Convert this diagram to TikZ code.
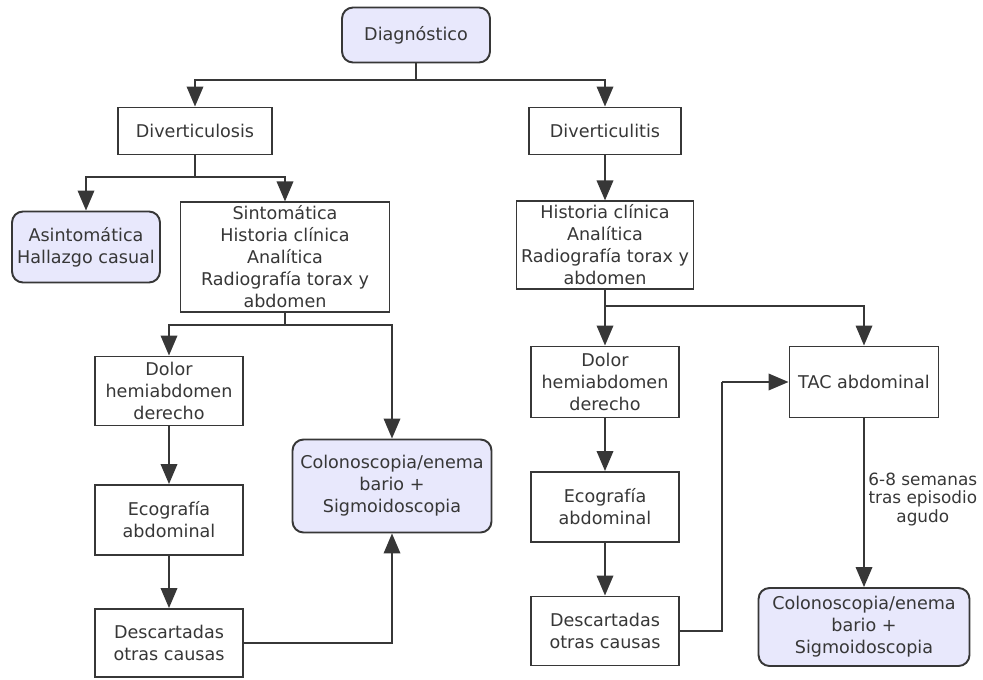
\documentclass[tikz,border=0pt]{standalone}
\usepackage{fontspec}
\setmainfont{DejaVu Sans}
\usetikzlibrary{arrows.meta}
\definecolor{lav}{RGB}{232,232,252}
\definecolor{ink}{RGB}{55,55,55}

\begin{document}
\begin{tikzpicture}[x=0.02cm,y=-0.02cm,
    font=\fontsize{10}{12.5}\selectfont, text=ink,
    box/.style={draw=ink, line width=1.1pt, fill=white, align=center, inner sep=2pt},
    rbox/.style={box, fill=lav, rounded corners=0.22cm},
    ->/.style={draw=ink, line width=1.1pt, -{Triangle[length=4mm,width=3.3mm]}},
    wire/.style={draw=ink, line width=1.1pt}]
\useasboundingbox (0,0) rectangle (983,679);
\node[rbox, minimum width=2.96cm, minimum height=1.1cm](d0) at (416,35){Diagnóstico};
\node[box, minimum width=3.08cm, minimum height=0.94cm](d1) at (195,131){Diverticulosis};
\node[box, minimum width=3.04cm, minimum height=0.94cm](d2) at (605,131){Diverticulitis};
\node[rbox, minimum width=2.96cm, minimum height=1.42cm](a1) at (86,247){Asintomática\\Hallazgo casual};
\node[box, minimum width=4.18cm, minimum height=2cm](a2) at (285,257){Sintomática\\Historia clínica\\Analítica\\Radiografía torax y\\abdomen};
\node[box, minimum width=2.96cm, minimum height=1.38cm](b1) at (169,391){Dolor\\hemiabdomen\\derecho};
\node[rbox, minimum width=3.98cm, minimum height=1.86cm](b2) at (392,486){Colonoscopia/enema\\bario +\\Sigmoidoscopia};
\node[box, minimum width=2.96cm, minimum height=1.4cm](b3) at (169,520){Ecografía\\abdominal};
\node[box, minimum width=2.96cm, minimum height=1.36cm](b4) at (169,643){Descartadas\\otras causas};
\node[box, minimum width=3.54cm, minimum height=1.7cm](c0) at (605,245){Historia clínica\\Analítica\\Radiografía torax y\\abdomen};
\node[box, minimum width=2.96cm, minimum height=1.42cm](c1) at (605,382){Dolor\\hemiabdomen\\derecho};
\node[box, minimum width=2.98cm, minimum height=1.42cm](c2) at (864,382){TAC abdominal};
\node[box, minimum width=2.96cm, minimum height=1.4cm](c3) at (605,507){Ecografía\\abdominal};
\node[box, minimum width=2.96cm, minimum height=1.38cm](c4) at (605,631){Descartadas\\otras causas};
\node[rbox, minimum width=4.22cm, minimum height=1.56cm](c5) at (864,627){Colonoscopia/enema\\bario +\\Sigmoidoscopia};
\coordinate (j0) at (416,80);
\coordinate (j1) at (195,177);
\coordinate (j2) at (285,325);
\coordinate (j3) at (605,306);
\coordinate (k1) at (722,382);
\draw[wire] (d0) -- (j0);
\draw[->] (j0) -| (d1);
\draw[->] (j0) -| (d2);
\draw[wire] (d1) -- (j1);
\draw[->] (j1) -| (a1);
\draw[->] (j1) -| (a2);
\draw[wire] (a2) -- (j2);
\draw[->] (j2) -| (b1);
\draw[->] (j2) -| (b2);
\draw[->] (b1) -- (b3);
\draw[->] (b3) -- (b4);
\draw[->] (b4) -| (b2);
\draw[->] (d2) -- (c0);
\draw[wire] (c0) -- (j3);
\draw[->] (j3) -- (c1);
\draw[->] (j3) -| (c2);
\draw[->] (c1) -- (c3);
\draw[->] (c3) -- (c4);
\draw[wire] (c4) -| (k1);
\draw[->] (k1) -- (c2);
\draw[->] (c2) -- node[right, align=center, inner sep=2pt, yshift=2pt,
    font=\fontsize{9.6}{10.5}\selectfont]{6-8 semanas\\tras episodio\\agudo} (c5);
\end{tikzpicture}
\end{document}
